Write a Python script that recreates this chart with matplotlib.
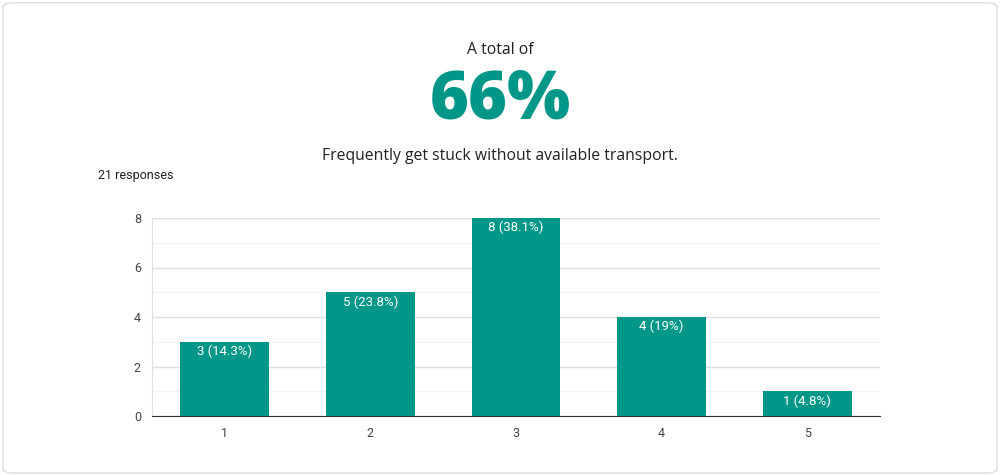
import matplotlib
matplotlib.use("Agg")
import matplotlib.pyplot as plt
from matplotlib.patches import FancyBboxPatch

categories = ["1", "2", "3", "4", "5"]
values = [3, 5, 8, 4, 1]
labels = ["3 (14.3%)", "5 (23.8%)", "8 (38.1%)", "4 (19%)", "1 (4.8%)"]
teal = "#009688"

fig = plt.figure(figsize=(10, 4.75), dpi=100)
fig.patches.append(FancyBboxPatch((0.003, 0.004), 0.994, 0.99, boxstyle="round,pad=0,rounding_size=0.01",
                                  transform=fig.transFigure, fc="white", ec="#dadce0", lw=1, zorder=-10))
W, H = 1000, 475
fig.text(500/W, 1-50/H, "A total of", ha="center", va="center", fontsize=11.3, family="Open Sans", color="#202124")
fig.text(500/W, 1-101/H, "66%", ha="center", va="center", fontsize=48, fontweight="heavy", family="Open Sans", color=teal)
fig.text(500/W, 1-156/H, "Frequently get stuck without available transport.", ha="center", va="center",
         fontsize=11.3, family="Open Sans", color="#202124")
fig.text(98/W, 1-176/H, "21 responses", ha="left", va="center", fontsize=9, family="Roboto", color="#202124")

ax = fig.add_axes([152/W, 1-416/H, (880-152)/W, (416-218)/H])
ax.set_facecolor("none")
x = range(len(categories))
ax.bar(x, values, width=0.61, color=teal, zorder=3)
for i, (v, l) in enumerate(zip(values, labels)):
    ax.text(i, v - 0.12, l, ha="center", va="top", color="white", fontsize=9.5, family="Roboto", zorder=4)
ax.set_xlim(-0.5, 4.5)
ax.set_ylim(0, 8)
ax.set_yticks([0, 2, 4, 6, 8])
ax.set_yticks([1, 3, 5, 7], minor=True)
ax.set_xticks(list(x))
ax.set_xticklabels(categories)
ax.grid(axis="y", which="major", color="#e0e0e0", lw=1, zorder=0)
ax.grid(axis="y", which="minor", color="#f3f3f3", lw=1, zorder=0)
for s in ["top", "right"]:
    ax.spines[s].set_visible(False)
ax.spines["left"].set_color("#e0e0e0")
ax.spines["bottom"].set_color("#333333")
ax.tick_params(length=0, labelsize=9, colors="#444444", pad=8)
ax.tick_params(which="minor", length=0)
for t in ax.get_xticklabels() + ax.get_yticklabels():
    t.set_family("Roboto")
fig.savefig("out.png", dpi=100)
